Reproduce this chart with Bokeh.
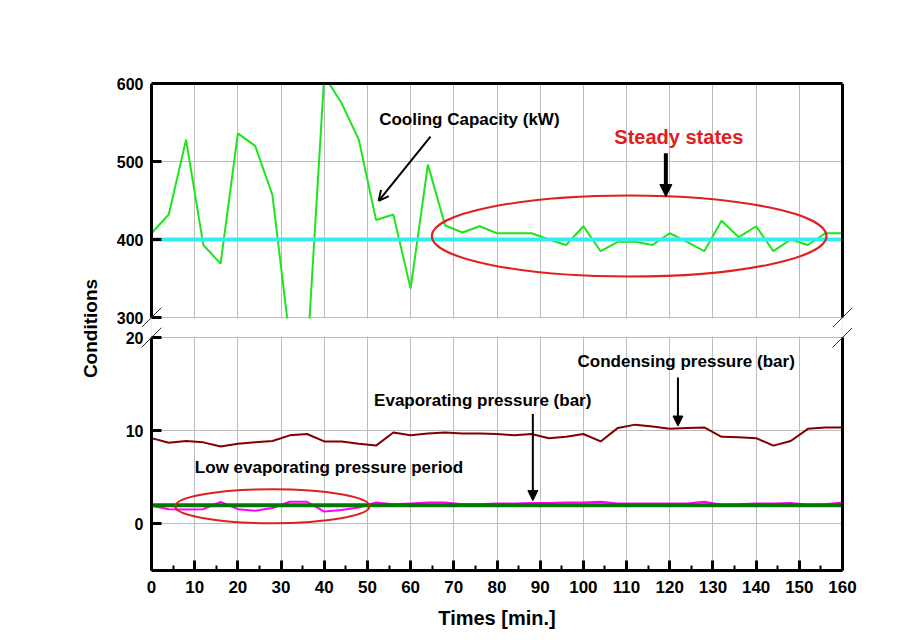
import math
from bokeh.plotting import figure
from bokeh.models import (Range1d, FixedTicker, Grid, LinearAxis, Label, Arrow,
                          NormalHead, OpenHead)
from bokeh.layouts import row, column
from bokeh.embed import file_html
from bokeh.resources import INLINE

# ---------------- data ----------------
time_min = list(range(0, 161, 4))
cooling_capacity_kw = [408, 432, 528, 393, 369, 536, 520, 457, 272, 245,
                       610, 575, 528, 425, 432, 337, 496, 418, 409, 417,
                       408, 408, 408, 400, 393, 417, 385, 397, 397, 393,
                       408, 397, 385, 424, 403, 417, 385, 400, 393, 408, 408]
condensing_bar = [9.2, 8.7, 8.9, 8.75, 8.3, 8.6, 8.75, 8.9, 9.5, 9.65,
                  8.85, 8.85, 8.6, 8.4, 9.8, 9.5, 9.7, 9.8, 9.7, 9.7,
                  9.65, 9.5, 9.65, 9.2, 9.35, 9.65, 8.85, 10.3, 10.65, 10.45,
                  10.2, 10.3, 10.35, 9.35, 9.3, 9.2, 8.4, 8.9, 10.2, 10.35, 10.35]
evaporating_bar = [1.95, 1.58, 1.55, 1.58, 2.37, 1.58, 1.4, 1.7, 2.37, 2.37,
                   1.33, 1.5, 1.75, 2.3, 2.1, 2.2, 2.3, 2.3, 2.1, 2.1,
                   2.2, 2.2, 2.25, 2.25, 2.3, 2.3, 2.37, 2.2, 2.2, 2.2,
                   2.2, 2.2, 2.37, 2.05, 2.1, 2.2, 2.2, 2.25, 2.05, 2.1, 2.3]
capacity_reference_kw = [400, 400]
evaporating_reference_bar = [2.0, 2.0]
reference_time = [0, 160]

x_ticks = list(range(0, 161, 10))
x_minor_ticks = list(range(5, 160, 10))
top_y_ticks = [300, 400, 500, 600]
bottom_y_ticks = [0, 10, 20]

X0, X1 = 0, 160
TOP_LO, TOP_HI = 300, 600
BOT_LO, BOT_HI = -5, 20

# ---------------- style / geometry ----------------
FONT = "Liberation Sans"
GRID = "#bdbdbd"
RED = "#e02020"

W, H = 914, 643
LEFT_W = 100
FRAME_PX_W = 691          # width of the 0..160 span
TOP_PX_H = 234            # height of 300..600 span
BOT_PX_H = 233            # height of -5..20 span
PAD = 10                  # horizontal room for break marks
GAP = 10                  # vertical room for break marks
px_per_min = FRAME_PX_W / (X1 - X0)
px_per_kw = TOP_PX_H / (TOP_HI - TOP_LO)
px_per_bar = BOT_PX_H / (BOT_HI - BOT_LO)

xpad = PAD / px_per_min
x_lo, x_hi = X0 - xpad, X1 + xpad
top_lo = TOP_LO - GAP / px_per_kw
bot_hi = BOT_HI + GAP / px_per_bar

TOP_H = 83 + TOP_PX_H + GAP
BORDER_L = 151 - PAD - LEFT_W
BORDER_R = W - (151 + FRAME_PX_W + PAD)


def strip_grids(p):
    p.center = [c for c in p.center if not isinstance(c, Grid)]


def setup_y(p, ticks, bounds):
    # labels-only axis at the frame edge
    ax = p.yaxis[0]
    ax.ticker = FixedTicker(ticks=ticks)
    ax.axis_line_color = None
    ax.major_tick_in = 0
    ax.major_tick_out = 0
    ax.minor_tick_in = 0
    ax.minor_tick_out = 0
    ax.major_label_standoff = -2
    ax.major_label_text_font = FONT
    ax.major_label_text_font_style = "bold"
    ax.major_label_text_font_size = "16px"
    ax.major_label_text_color = "black"
    # axis line + inward ticks at x = 0 (ticks drawn as unlabeled minor ticks)
    line_ax = LinearAxis(ticker=FixedTicker(ticks=[], minor_ticks=ticks),
                         fixed_location=X0, bounds=bounds,
                         axis_line_width=3, axis_line_color="black",
                         major_tick_in=0, major_tick_out=0,
                         minor_tick_in=10, minor_tick_out=0, minor_tick_line_width=3,
                         minor_tick_line_color="black")
    p.add_layout(line_ax, "left")


def bare_axis(**kw):
    return LinearAxis(ticker=FixedTicker(ticks=[]), axis_line_width=3,
                      axis_line_color="black", major_tick_in=0, major_tick_out=0,
                      minor_tick_in=0, minor_tick_out=0, **kw)


def break_marks(p, yc, ppu):
    dx = 10 / px_per_min
    dy = 10 / ppu
    for xe in (X0, X1):
        p.add_layout(Arrow(end=None, x_start=xe - dx, y_start=yc - dy,
                           x_end=xe + dx, y_end=yc + dy,
                           line_color="#333333", line_width=1))


# ---------------- left label panel ----------------
p_left = figure(width=LEFT_W, height=H, x_range=Range1d(0, LEFT_W), y_range=Range1d(0, H),
                x_axis_location=None, y_axis_location=None, toolbar_location=None,
                output_backend="svg", min_border=0, outline_line_color=None)
strip_grids(p_left)
p_left.add_layout(Label(x=90, y=H - 328, text="Conditions", angle=math.pi / 2,
                        text_align="center", text_baseline="middle", text_font=FONT,
                        text_font_style="bold", text_font_size="19px", text_color="black"))

xr = Range1d(x_lo, x_hi)

# ---------------- top panel ----------------
p1 = figure(width=W - LEFT_W, height=TOP_H, x_range=xr, y_range=Range1d(top_lo, TOP_HI),
            x_axis_location=None, toolbar_location=None, output_backend="svg",
            min_border_left=BORDER_L, min_border_right=BORDER_R, min_border_top=83,
            min_border_bottom=0, outline_line_color=None)
strip_grids(p1)
p1.add_layout(Grid(dimension=0, ticker=FixedTicker(ticks=x_ticks), grid_line_color=GRID))
p1.add_layout(Grid(dimension=1, ticker=FixedTicker(ticks=top_y_ticks), grid_line_color=GRID))
setup_y(p1, top_y_ticks, (TOP_LO, TOP_HI))
p1.add_layout(bare_axis(bounds=(X0, X1)), "above")
p1.add_layout(bare_axis(bounds=(TOP_LO, TOP_HI), fixed_location=X1), "right")

p1.line(time_min, cooling_capacity_kw, line_color="#1ee41e", line_width=2)
p1.line(reference_time, capacity_reference_kw, line_color="#33eeee", line_width=4)
# white masks: keep the panel's look outside the 0..160 / 300..600 box
p1.quad(left=[x_lo, X1, X0], right=[X0, x_hi, X1],
        bottom=[top_lo, top_lo, top_lo], top=[TOP_HI, TOP_HI, TOP_LO - 1 / px_per_kw],
        fill_color="white", line_color=None)
p1.ellipse(x=[110.6], y=[404.5], width=91.4, height=104, fill_color=None,
           line_color=RED, line_width=2)

p1.add_layout(Label(x=73.6, y=553.8, text="Cooling Capacity (kW)", text_align="center",
                    text_baseline="middle", text_font=FONT, text_font_style="bold",
                    text_font_size="17px", text_color="black"))
p1.add_layout(Label(x=122.1, y=532, text="Steady states", text_align="center",
                    text_baseline="middle", text_font=FONT, text_font_style="bold",
                    text_font_size="20px", text_color=RED))
p1.add_layout(Arrow(end=OpenHead(size=10, line_width=2, line_color="black"),
                    x_start=64.6, y_start=532, x_end=52.6, y_end=449.6,
                    line_width=2, line_color="black"))
p1.add_layout(Arrow(end=NormalHead(size=12, fill_color="black", line_color="black"),
                    x_start=119.1, y_start=510.6, x_end=119.1, y_end=455,
                    line_width=4, line_color="black"))
break_marks(p1, TOP_LO, px_per_kw)

# ---------------- bottom panel ----------------
p2 = figure(width=W - LEFT_W, height=H - TOP_H, x_range=xr, y_range=Range1d(BOT_LO, bot_hi),
            toolbar_location=None, output_backend="svg",
            min_border_left=BORDER_L, min_border_right=BORDER_R, min_border_top=0,
            min_border_bottom=73, outline_line_color=None)
strip_grids(p2)
p2.add_layout(Grid(dimension=0, ticker=FixedTicker(ticks=x_ticks), grid_line_color=GRID))
p2.add_layout(Grid(dimension=1, ticker=FixedTicker(ticks=bottom_y_ticks), grid_line_color=GRID))
setup_y(p2, bottom_y_ticks, (BOT_LO, BOT_HI))
p2.add_layout(bare_axis(bounds=(BOT_LO, BOT_HI), fixed_location=X1), "right")

xa = p2.xaxis[0]
xa.ticker = FixedTicker(ticks=x_ticks, minor_ticks=x_minor_ticks)
xa.bounds = (X0, X1)
xa.axis_line_width = 3
xa.axis_line_color = "black"
xa.major_tick_in = 10
xa.major_tick_out = 0
xa.major_tick_line_width = 3
xa.minor_tick_in = 5
xa.minor_tick_out = 0
xa.minor_tick_line_width = 2
xa.major_label_standoff = 10
xa.major_label_text_font = FONT
xa.major_label_text_font_style = "bold"
xa.major_label_text_font_size = "17px"
xa.major_label_text_color = "black"
xa.axis_label = "Times [min.]"
xa.axis_label_standoff = 11
xa.axis_label_text_font = FONT
xa.axis_label_text_font_style = "bold"
xa.axis_label_text_font_size = "20px"
xa.axis_label_text_color = "black"

p2.line(time_min, condensing_bar, line_color="#800000", line_width=2)
p2.line(time_min, evaporating_bar, line_color="#ff00ff", line_width=2)
p2.line(reference_time, evaporating_reference_bar, line_color="#007a00", line_width=4)
p2.quad(left=[x_lo, X1, X0], right=[X0, x_hi, X1],
        bottom=[BOT_LO, BOT_LO, BOT_HI + 1 / px_per_bar], top=[bot_hi, bot_hi, bot_hi],
        fill_color="white", line_color=None)
p2.ellipse(x=[28], y=[1.9], width=45, height=3.65, fill_color=None,
           line_color=RED, line_width=2)

for txt, xc, yc in [("Condensing pressure (bar)", 123.8, 17.4),
                    ("Evaporating pressure (bar)", 76.7, 13.2),
                    ("Low evaporating pressure period", 41.1, 6.0)]:
    p2.add_layout(Label(x=xc, y=yc, text=txt, text_align="center", text_baseline="middle",
                        text_font=FONT, text_font_style="bold", text_font_size="17px",
                        text_color="black"))
p2.add_layout(Arrow(end=NormalHead(size=10, fill_color="black", line_color="black"),
                    x_start=121.9, y_start=15.7, x_end=121.9, y_end=10.5,
                    line_width=2, line_color="black"))
p2.add_layout(Arrow(end=NormalHead(size=10, fill_color="black", line_color="black"),
                    x_start=88.3, y_start=11.8, x_end=88.3, y_end=2.5,
                    line_width=2, line_color="black"))
break_marks(p2, BOT_HI, px_per_bar)

layout = row(p_left, column(p1, p2, spacing=0), spacing=0)
open("out.html", "w").write(file_html(layout, INLINE))
